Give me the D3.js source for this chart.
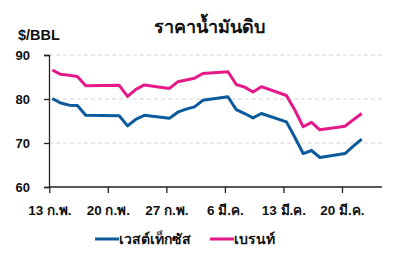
<!DOCTYPE html>
<html>
<head>
<meta charset="utf-8">
<script src="https://cdn.jsdelivr.net/npm/d3@7"></script>
<style>
  html, body { margin: 0; padding: 0; background: #fff; }
  svg { display: block; font-family: "Liberation Sans", Arial, sans-serif; }
</style>
</head>
<body>
<svg id="chart" width="393" height="260"></svg>
<script>
// trading days (20 Feb left out, no US session)
var dates = ["2023-02-13","2023-02-14","2023-02-15","2023-02-16","2023-02-17",
             "2023-02-21","2023-02-22","2023-02-23","2023-02-24",
             "2023-02-27","2023-02-28","2023-03-01","2023-03-02","2023-03-03",
             "2023-03-06","2023-03-07","2023-03-08","2023-03-09","2023-03-10",
             "2023-03-13","2023-03-14","2023-03-15","2023-03-16","2023-03-17",
             "2023-03-20","2023-03-21","2023-03-22"];
var wti   = [80.1, 79.1, 78.6, 78.5, 76.3, 76.2, 73.9, 75.4, 76.3,
             75.6, 77.0, 77.7, 78.2, 79.7, 80.5, 77.6, 76.7, 75.7, 76.7,
             74.8, 71.3, 67.6, 68.3, 66.7, 67.6, 69.3, 70.9];
var brent = [86.6, 85.6, 85.4, 85.1, 83.0, 83.1, 80.6, 82.2, 83.2,
             82.4, 83.9, 84.3, 84.7, 85.8, 86.2, 83.3, 82.7, 81.6, 82.8,
             80.8, 77.5, 73.7, 74.7, 73.0, 73.8, 75.3, 76.7];
var tickDates  = ["2023-02-13","2023-02-20","2023-02-27","2023-03-06","2023-03-13","2023-03-20"];
var tickLabels = ["13 ก.พ.", "20 ก.พ.", "27 ก.พ.", "6 มี.ค.", "13 มี.ค.", "20 มี.ค."];
var yTicks = [60, 70, 80, 90];
var seriesNames = ["เวสต์เท็กซัส", "เบรนท์"];
var colors = ["#0b5a9b", "#e5198a"];

var parse = d3.timeParse("%Y-%m-%d");
var svg = d3.select("#chart");

var x = d3.scaleTime()
	.domain([parse("2023-02-13"), parse("2023-03-22")])
	.range([52.3, 361.7]);
var y = d3.scaleLinear().domain([60, 90]).range([187, 55]);

var left = 49, right = 382;

// grid lines
svg.append("g").selectAll("line")
	.data(yTicks.filter(function (v) { return v > 60; }))
	.join("line")
	.attr("x1", left).attr("x2", right)
	.attr("y1", function (v) { return y(v); })
	.attr("y2", function (v) { return y(v); })
	.attr("stroke", "#d4d4d4")
	.attr("stroke-width", 1)
	.attr("stroke-dasharray", "4,3");

// y axis
var yAxis = svg.append("g")
	.attr("transform", "translate(" + left + ",0)")
	.call(d3.axisLeft(y).tickValues(yTicks).tickSize(5).tickPadding(14));
yAxis.select(".domain").attr("stroke", "#222").attr("stroke-width", 1.3);
yAxis.selectAll(".tick line").attr("stroke", "#222").attr("stroke-width", 1.3);
yAxis.selectAll("text")
	.attr("font-size", 13).attr("font-weight", "bold").attr("fill", "#111")
	.attr("font-family", "Liberation Sans, Arial, sans-serif");

// x axis, ticks sit a few px left of the points like the original
var xAxis = svg.append("g")
	.attr("transform", "translate(-3," + y(60) + ")")
	.call(d3.axisBottom(x)
		.tickValues(tickDates.map(parse))
		.tickFormat(function (d, i) { return tickLabels[i]; })
		.tickSize(6).tickSizeOuter(0).tickPadding(12));
xAxis.select(".domain").attr("d", "M" + (left + 3) + ",0H" + (right + 3))
	.attr("stroke", "#222").attr("stroke-width", 1.3);
xAxis.selectAll(".tick line").attr("stroke", "#222").attr("stroke-width", 1.3);
xAxis.selectAll("text")
	.attr("font-size", 13.5).attr("font-weight", "bold").attr("fill", "#111")
	.attr("font-family", "Liberation Sans, Arial, sans-serif");

// lines
var line = d3.line()
	.x(function (d) { return x(d.date); })
	.y(function (d) { return y(d.v); });

[wti, brent].forEach(function (vals, k) {
	var pts = vals.map(function (v, i) { return { date: parse(dates[i]), v: v }; });
	svg.append("path")
		.datum(pts)
		.attr("d", line)
		.attr("fill", "none")
		.attr("stroke", colors[k])
		.attr("stroke-width", 3)
		.attr("stroke-linejoin", "round");
});

// title and unit
svg.append("text")
	.attr("x", 209).attr("y", 33)
	.attr("text-anchor", "middle")
	.attr("font-size", 18).attr("font-weight", "bold").attr("fill", "#111")
	.text("ราคาน้ำมันดิบ");

svg.append("text")
	.attr("x", 18).attr("y", 40)
	.attr("font-size", 14.5).attr("font-weight", "bold").attr("fill", "#111")
	.text("$/BBL");

// legend
var legendX = [95, 210];
seriesNames.forEach(function (name, k) {
	var g = svg.append("g").attr("transform", "translate(" + legendX[k] + ",239)");
	g.append("line")
		.attr("x1", 0).attr("x2", 24)
		.attr("stroke", colors[k]).attr("stroke-width", 3);
	g.append("text")
		.attr("x", 24).attr("y", 5)
		.attr("font-size", 14).attr("font-weight", "bold").attr("fill", "#111")
		.text(name);
});
</script>
</body>
</html>
